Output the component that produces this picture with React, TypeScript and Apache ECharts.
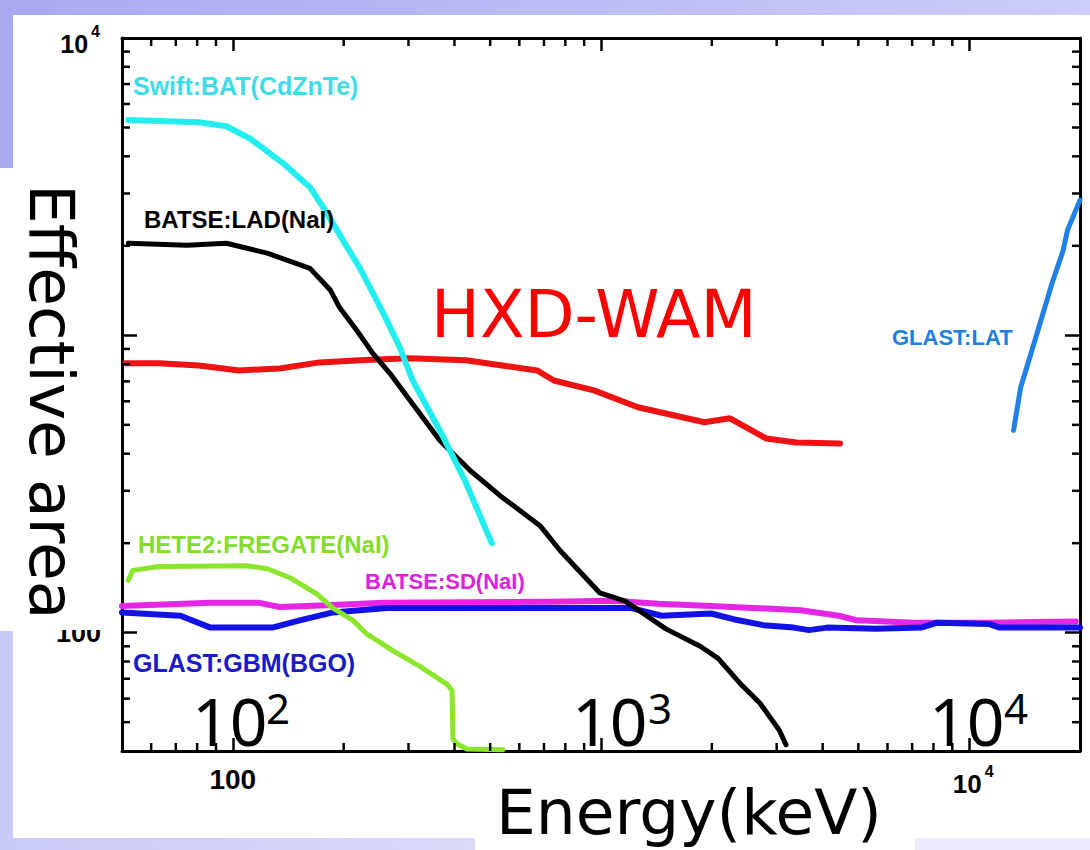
import React, { useEffect, useRef } from "react";
import * as echarts from "echarts";

type Pt = [number, number];

// Energy (keV), effective area (cm^2)
const swiftBat: Pt[] = [
  [52, 5300], [81, 5210], [96, 5050], [111, 4600], [137, 3790], [162, 3150],
  [180, 2580], [199, 2090], [221, 1690], [256, 1190], [284, 912], [308, 705],
  [365, 479], [427, 325], [505, 200],
];
const batseLad: Pt[] = [
  [52, 2040], [75, 2010], [96, 2040], [124, 1890], [162, 1680], [184, 1420],
  [195, 1240], [217, 1040], [240, 870], [267, 745], [303, 604], [365, 443],
  [441, 351], [532, 289], [683, 229], [774, 189], [993, 136], [1160, 128],
  [1500, 103], [1860, 90], [2080, 82], [2400, 67], [2700, 58], [3050, 47], [3180, 42],
];
const hxdWam: Pt[] = [
  [51, 805], [63, 805], [81, 792], [104, 762], [134, 774], [172, 811], [221, 824],
  [301, 837], [430, 824], [670, 762], [745, 705], [957, 653], [1260, 573],
  [1910, 510], [2240, 526], [2810, 450], [3390, 436], [4460, 433],
];
const hete2Fregate: Pt[] = [
  [52, 150], [53.5, 162], [63, 167], [109, 168], [124, 164], [143, 153], [169, 135],
  [187, 121], [212, 110], [231, 99], [272, 87], [322, 77], [382, 67], [394, 64],
  [396, 44], [406, 42.3], [432, 40.6], [542, 40.4],
];
const batseSd: Pt[] = [
  [50, 123], [87, 126], [118, 126], [134, 122], [187, 124], [256, 126], [726, 127],
  [1080, 128], [1430, 125], [1990, 123], [3490, 119], [4430, 114], [4960, 110],
  [7100, 108], [11300, 108], [19500, 109],
];
const glastGbm: Pt[] = [
  [50, 117], [72, 114], [87, 104], [128, 104], [152, 110], [187, 117], [262, 121],
  [1210, 121], [1460, 114], [1990, 116], [2290, 111], [2760, 106], [3340, 104],
  [3670, 102], [4110, 104], [5590, 103], [7410, 104], [8190, 108], [11300, 107],
  [12100, 104], [20000, 104],
];
const glastLat: Pt[] = [
  [13200, 479], [13800, 668], [15000, 939], [16800, 1500], [18000, 1930],
  [18500, 2260], [20000, 2850],
];

const xMin = 50;
const xMax = 20000;
const yMin = 40;
const yMax = 10000;
const xMinorTicks = [60, 70, 80, 90, 200, 300, 400, 500, 600, 700, 800, 900,
  2000, 3000, 4000, 5000, 6000, 7000, 8000, 9000];
const yMinorTicks = [50, 60, 70, 80, 90, 200, 300, 400, 500, 600, 700, 800, 900,
  2000, 3000, 4000, 5000, 6000, 7000, 8000, 9000];
// tick labels: [value, mantissa text, exponent text ("" = none)]
const xTickLabels: [number, string, string][] = [[100, "100", ""], [10000, "10", "4"]];
const yTickLabels: [number, string, string][] = [[100, "100", ""], [10000, "10", "4"]];

const xTitle = "Energy(keV)";
const yTitle = "Effective area";
const wamTitle = "HXD-WAM";
const decadeLabels = [
  { base: "10", exp: "2" },
  { base: "10", exp: "3" },
  { base: "10", exp: "4" },
];

const F_BIG = "DejaVu Sans";
const F_NUM = "Noto Sans";
const F_SMALL = "Liberation Sans";

export default function App() {
  const ref = useRef<HTMLDivElement>(null);

  useEffect(() => {
    if (!ref.current) return;
    const chart = echarts.init(ref.current, undefined, { renderer: "svg" });

    const axisLine = { show: true, onZero: false, lineStyle: { color: "#000", width: 3 } };
    const axisTick = { show: true, inside: true, length: 13, lineStyle: { color: "#000", width: 2.5 } };
    const tickStyle = { stroke: "#000", lineWidth: 2.5 };

    const line = (name: string, data: Pt[], color: string, width: number, z: number) => ({
      type: "line",
      name,
      data,
      showSymbol: false,
      symbol: "none",
      smooth: false,
      z,
      lineStyle: { color, width, cap: "round", join: "round" },
      silent: true,
    });

    const label = (text: string, x: number, y: number, color: string, size: number) => ({
      type: "text",
      x,
      y,
      z: 40,
      style: {
        text,
        fill: color,
        fontFamily: F_SMALL,
        fontWeight: "bold",
        fontSize: size,
        textAlign: "left",
        textVerticalAlign: "middle",
      },
    });

    const bigDecade = (i: number, x: number, xs: number) => [
      {
        type: "text",
        x,
        y: 720,
        z: 60,
        style: {
          text: decadeLabels[i].base,
          fill: "#000",
          fontFamily: F_NUM,
          fontSize: 66,
          textAlign: "left",
          textVerticalAlign: "middle",
        },
      },
      {
        type: "text",
        x: xs,
        y: 707,
        z: 60,
        style: {
          text: decadeLabels[i].exp,
          fill: "#000",
          fontFamily: F_NUM,
          fontSize: 42,
          textAlign: "left",
          textVerticalAlign: "middle",
        },
      },
    ];

    // one text element per tick label; exponent drawn as a rich superscript
    const tickText = (d: [number, string, string], x: number, y: number, size: number, align: string) => ({
      type: "text",
      x,
      y,
      style: {
        text: d[2] ? `{b|${d[1]}}{s|${d[2]}}` : d[1],
        fill: "#000",
        fontFamily: F_SMALL,
        fontWeight: "bold",
        fontSize: size,
        textAlign: align,
        textVerticalAlign: "middle",
        rich: {
          b: {
            fontFamily: F_SMALL,
            fontWeight: "bold",
            fontSize: size,
            fill: "#000",
            lineHeight: size + 8,
            verticalAlign: "bottom",
          },
          s: {
            fontFamily: F_SMALL,
            fontWeight: "bold",
            fontSize: 16,
            fill: "#000",
            lineHeight: 16,
            verticalAlign: "top",
            padding: [0, 0, 0, 3],
          },
        },
      },
    });

    const option: any = {
      animation: false,
      backgroundColor: "#ffffff",
      grid: { left: 122, top: 38, width: 958, height: 713 },
      xAxis: [
        {
          type: "log",
          logBase: 10,
          min: xMin,
          max: xMax,
          position: "bottom",
          axisLine,
          axisTick,
          splitLine: { show: false },
          axisLabel: { show: false },
        },
        {
          type: "log",
          logBase: 10,
          min: xMin,
          max: xMax,
          position: "top",
          axisLine,
          axisTick,
          splitLine: { show: false },
          axisLabel: { show: false },
        },
      ],
      yAxis: [
        {
          type: "log",
          logBase: 10,
          min: yMin,
          max: yMax,
          position: "left",
          axisLine,
          axisTick: { ...axisTick, length: 15 },
          splitLine: { show: false },
          axisLabel: { show: false },
        },
        {
          type: "log",
          logBase: 10,
          min: yMin,
          max: yMax,
          position: "right",
          axisLine,
          axisTick: { ...axisTick, length: 15 },
          splitLine: { show: false },
          axisLabel: { show: false },
        },
      ],
      series: [
        line("BATSE:SD(NaI)", batseSd, "#e626e6", 6, 3),
        line("GLAST:GBM(BGO)", glastGbm, "#1212e6", 6, 4),
        line("HXD-WAM", hxdWam, "#ee1212", 6, 5),
        line("BATSE:LAD(NaI)", batseLad, "#000000", 5, 6),
        line("Swift:BAT(CdZnTe)", swiftBat, "#22eef0", 6, 7),
        line("HETE2:FREGATE(NaI)", hete2Fregate, "#8ae62a", 5, 8),
        line("GLAST:LAT", glastLat, "#1e80e8", 5, 8),
        // minor ticks on bottom/top
        {
          type: "custom",
          xAxisIndex: 0,
          yAxisIndex: 0,
          silent: true,
          z: 10,
          data: xMinorTicks.map((v) => [v, 100]),
          renderItem: (params: any, api: any) => {
            const cs = params.coordSys;
            const x = api.coord([api.value(0), api.value(1)])[0];
            const yb = cs.y + cs.height;
            return {
              type: "group",
              children: [
                { type: "line", shape: { x1: x, y1: yb, x2: x, y2: yb - 8 }, style: tickStyle },
                { type: "line", shape: { x1: x, y1: cs.y, x2: x, y2: cs.y + 8 }, style: tickStyle },
              ],
            };
          },
        },
        // minor ticks on left/right
        {
          type: "custom",
          xAxisIndex: 0,
          yAxisIndex: 0,
          silent: true,
          z: 10,
          data: yMinorTicks.map((v) => [100, v]),
          renderItem: (params: any, api: any) => {
            const cs = params.coordSys;
            const y = api.coord([api.value(0), api.value(1)])[1];
            const xr = cs.x + cs.width;
            return {
              type: "group",
              children: [
                { type: "line", shape: { x1: cs.x, y1: y, x2: cs.x + 8, y2: y }, style: tickStyle },
                { type: "line", shape: { x1: xr, y1: y, x2: xr - 8, y2: y }, style: tickStyle },
              ],
            };
          },
        },
        // x tick labels
        {
          type: "custom",
          xAxisIndex: 0,
          yAxisIndex: 0,
          silent: true,
          z: 10,
          clip: false,
          data: xTickLabels.map((d) => [d[0], 100]),
          renderItem: (params: any, api: any) => {
            const cs = params.coordSys;
            const d = xTickLabels[params.dataIndex];
            const x = api.coord([api.value(0), api.value(1)])[0];
            const y = cs.y + cs.height + 28;
            return d[2] ? tickText(d, x + 4, y + 1, 26, "center") : tickText(d, x, y, 28, "center");
          },
        },
        // y tick labels
        {
          type: "custom",
          xAxisIndex: 0,
          yAxisIndex: 0,
          silent: true,
          z: 10,
          clip: false,
          data: yTickLabels.map((d) => [100, d[0]]),
          renderItem: (params: any, api: any) => {
            const cs = params.coordSys;
            const d = yTickLabels[params.dataIndex];
            const y = api.coord([api.value(0), api.value(1)])[1];
            return d[2] ? tickText(d, cs.x - 22, y + 2, 25, "right") : tickText(d, cs.x - 21, y, 27, "right");
          },
        },
      ],
      graphic: [
        // slide background bands
        {
          type: "rect",
          z: 1,
          shape: { x: 0, y: 0, width: 1090, height: 15 },
          style: {
            fill: new echarts.graphic.LinearGradient(0, 0, 1, 0, [
              { offset: 0, color: "#a9a9f2" },
              { offset: 1, color: "#cdcdf9" },
            ]),
          },
        },
        { type: "rect", z: 1, shape: { x: 0, y: 0, width: 13, height: 168 }, style: { fill: "#a9a9f2" } },
        { type: "rect", z: 1, shape: { x: 0, y: 631, width: 13, height: 219 }, style: { fill: "#c9c9f6" } },
        {
          type: "rect",
          z: 1,
          shape: { x: 0, y: 838, width: 475, height: 12 },
          style: {
            fill: new echarts.graphic.LinearGradient(0, 0, 1, 0, [
              { offset: 0, color: "#cacaf7" },
              { offset: 1, color: "#dadafa" },
            ]),
          },
        },
        { type: "rect", z: 1, shape: { x: 915, y: 838, width: 175, height: 12 }, style: { fill: "#ebebfd" } },
        // white box behind the y title
        { type: "rect", z: 50, shape: { x: 0, y: 168, width: 114, height: 462 }, style: { fill: "#ffffff" } },
        {
          type: "text",
          x: 51,
          y: 184,
          rotation: -Math.PI / 2,
          z: 60,
          style: {
            text: yTitle,
            fill: "#000",
            fontFamily: F_BIG,
            fontSize: 63,
            textAlign: "left",
            textVerticalAlign: "middle",
          },
        },
        {
          type: "text",
          x: 496,
          y: 812,
          z: 60,
          style: {
            text: xTitle,
            fill: "#000",
            fontFamily: F_BIG,
            fontSize: 63,
            textAlign: "left",
            textVerticalAlign: "middle",
          },
        },
        {
          type: "text",
          x: 431,
          y: 314,
          z: 60,
          style: {
            text: wamTitle,
            fill: "#ff0000",
            fontFamily: F_BIG,
            fontSize: 65,
            textAlign: "left",
            textVerticalAlign: "middle",
          },
        },
        ...bigDecade(0, 192, 266),
        ...bigDecade(1, 572, 648),
        ...bigDecade(2, 929, 1004),
        label("Swift:BAT(CdZnTe)", 133, 86, "#3edce6", 25),
        label("BATSE:LAD(NaI)", 144, 219, "#000000", 24),
        label("HETE2:FREGATE(NaI)", 138, 544, "#82dc2c", 24),
        label("BATSE:SD(NaI)", 365, 581, "#dc22dc", 22),
        label("GLAST:GBM(BGO)", 133, 663, "#1a1ac8", 25),
        label("GLAST:LAT", 892, 337, "#2080e0", 22),
      ],
    };

    chart.setOption(option);
    return () => {
      chart.dispose();
    };
  }, []);

  return (
    <div
      ref={ref}
      style={{ position: "absolute", left: 0, top: 0, width: 1090, height: 850 }}
    />
  );
}
